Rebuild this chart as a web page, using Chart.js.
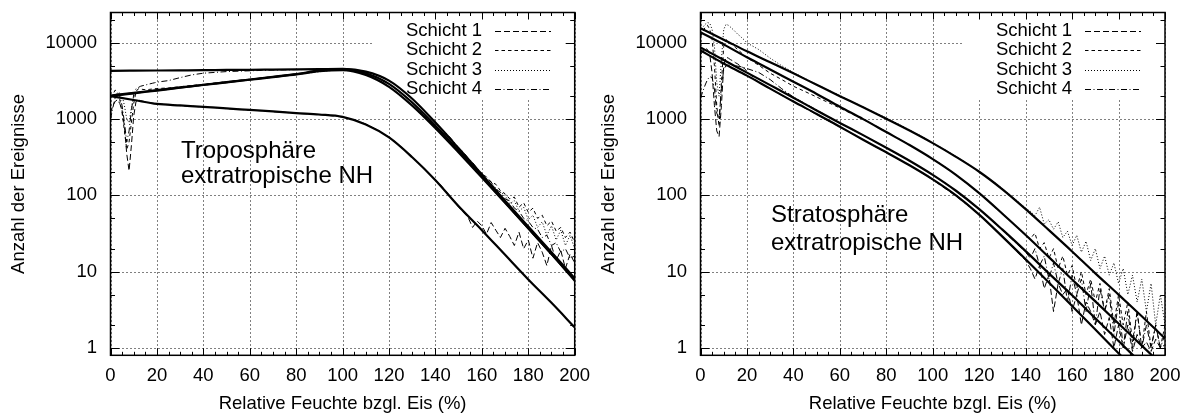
<!DOCTYPE html>
<html lang="de">
<head>
  <meta charset="UTF-8" />
  <title>Relative Feuchte bzgl. Eis - Anzahl der Ereignisse</title>
  <script src="https://cdn.jsdelivr.net/npm/chart.js"></script>
  <style>
    body {
      margin: 0;
      background: white;
    }
    .panels {
      position: relative;
      width: 1181px;
      height: 414px;
    }
    #tropoChart {
      position: absolute;
      left: 0;
      top: 0;
    }
    #stratoChart {
      position: absolute;
      left: 590px;
      top: 0;
    }
  </style>
</head>
<body>
  <div class="panels">
    <canvas id="tropoChart" width="590" height="414"></canvas>
    <canvas id="stratoChart" width="591" height="414"></canvas>
  </div>

  <script>
    // relative humidity over ice (%) for the measured curves
    const rhData = [
      0, 1, 2, 3, 4, 5, 6, 7, 8, 9, 10, 11, 12, 13, 14, 15, 16, 17, 18, 19, 20,
      25, 30, 35, 40, 45, 50, 55, 60, 65, 70, 75, 80, 85, 90, 95, 100, 105, 110, 115, 120, 125, 130, 135, 140,
      142, 144, 146, 148, 150, 152, 154, 156, 158, 160, 162, 164, 166, 168, 170, 172, 174, 176, 178, 180, 182, 184, 186, 188, 190, 192, 194, 196, 198, 200
    ];
    // relative humidity for the fitted curves
    const rhFit = [0, 10, 20, 30, 40, 50, 60, 70, 80, 90, 100, 110, 120, 130, 140, 150, 160, 170, 180, 190, 200];

    const layerNames = ["Schicht 1", "Schicht 2", "Schicht 3", "Schicht 4"];
    const layerDash = [[6, 3], [3.5, 3], [1, 2], [6, 2.5, 1, 2.5]];

    const xTickValues = [0, 20, 40, 60, 80, 100, 120, 140, 160, 180, 200];
    const yTickValues = [1, 10, 100, 1000, 10000];
    const yMinorValues = [2, 5, 20, 50, 200, 500, 2000, 5000, 20000];

    // --- Troposphaere ---
    const tropoLayer1 = [
      1200, 1500, 1700, 1800, 1600, 1300, 800, 350, 210, 450, 1100, 1700, 1800, 1750, 1720, 1690, 1660, 1640, 1620, 1600, 1590,
      1540, 1500, 1480, 1440, 1420, 1370, 1350, 1310, 1290, 1250, 1230, 1190, 1170, 1140, 1110, 1060, 980, 860, 720, 580, 440, 320, 225, 160,
      140, 118, 100, 84, 70, 60, 52, 38, 46, 40, 31, 44, 35, 28, 37, 29, 22, 33, 20, 26, 15, 24, 18, 12, 22, 14, 19, 11, 17, 13
    ];
    const tropoLayer2 = [
      1900, 2100, 2400, 2300, 1800, 1200, 700, 400, 500, 900, 1600, 2300, 2500, 2480, 2450, 2430, 2440, 2460, 2480, 2500, 2520,
      2560, 2660, 2760, 2860, 2970, 3090, 3210, 3330, 3460, 3600, 3750, 3900, 4100, 4300, 4450, 4500, 4350, 4000, 3550, 2900, 2250, 1650, 1150, 800,
      720, 640, 560, 470, 400, 340, 300, 250, 215, 190, 175, 150, 140, 115, 105, 90, 95, 70, 80, 60, 68, 50, 55, 40, 46, 34, 38, 28, 33, 24
    ];
    const tropoLayer3 = [
      2000, 2050, 2100, 2150, 2200, 2050, 1500, 1000, 900, 1400, 2000, 2200, 2250, 2250, 2280, 2300, 2320, 2330, 2350, 2360, 2380,
      2470, 2570, 2680, 2790, 2900, 3020, 3150, 3270, 3400, 3540, 3690, 3850, 4000, 4180, 4330, 4380, 4200, 3800, 3300, 2650, 2050, 1500, 1060, 760,
      660, 590, 510, 440, 370, 330, 290, 240, 210, 180, 160, 140, 125, 110, 100, 78, 85, 62, 70, 48, 55, 38, 45, 30, 40, 26, 35, 22, 30, 20
    ];
    const tropoLayer4 = [
      1000, 1400, 1900, 2100, 2000, 1500, 900, 500, 700, 1300, 2100, 2500, 2600, 2700, 2750, 2800, 2850, 2900, 2950, 3000, 3050,
      3200, 3500, 3800, 4000, 4100, 4200, 4250, 4300, 4350, 4400, 4420, 4450, 4480, 4500, 4550, 4550, 4450, 4200, 3800, 3200, 2500, 1850, 1300, 900,
      780, 680, 590, 500, 420, 370, 310, 270, 225, 195, 165, 150, 120, 110, 90, 85, 68, 62, 50, 46, 38, 36, 28, 30, 22, 24, 18, 20, 15, 16
    ];
    const tropoFit1 = [2000, 1780, 1580, 1510, 1450, 1380, 1320, 1260, 1200, 1150, 1070, 850, 575, 316, 158, 72, 35, 16.6, 7.9, 3.9, 1.86];
    const tropoFit2 = [2040, 2210, 2400, 2600, 2820, 3050, 3310, 3590, 3890, 4350, 4520, 4000, 2900, 1650, 820, 385, 178, 81, 37, 17, 7.8];
    const tropoFit3 = [2000, 2180, 2370, 2580, 2800, 3030, 3280, 3550, 3850, 4250, 4400, 3800, 2650, 1500, 760, 365, 172, 80, 37, 17, 7.6];
    const tropoFit4 = [4300, 4320, 4340, 4360, 4380, 4410, 4430, 4460, 4490, 4520, 4550, 4200, 3200, 1850, 900, 415, 188, 85, 39, 18, 8.2];
    const tropoNote = ["Troposphäre", "extratropische NH"];

    // --- Stratosphaere ---
    const stratoLayer1 = [
      7000, 7800, 8500, 8200, 7000, 4000, 1500, 700, 590, 1500, 5000, 6500, 6300, 6000, 5800, 5500, 5300, 5000, 4800, 4600, 4200,
      3050, 2500, 2050, 1700, 1400, 1150, 950, 790, 650, 535, 440, 365, 300, 248, 200, 160, 125, 98, 74, 56, 41, 29, 20, 14,
      11, 8, 12, 6, 9, 3, 7, 5, 6, 3, 5, 2, 4, 3, 2, 3, 1.5, 2.5, 1, 2, 1, 2, 0.9, 1.5, 1, 1.2, 0.9, 1.3, 1, 1.1
    ];
    const stratoLayer2 = [
      12000, 14000, 16000, 17000, 15000, 11000, 5000, 1500, 800, 3000, 9000, 11000, 10500, 10000, 9300, 8700, 8200, 7700, 7200, 6800, 6400,
      5100, 4000, 3300, 2700, 2300, 1950, 1650, 1400, 1180, 990, 830, 680, 560, 460, 370, 300, 240, 186, 140, 107, 78, 57, 42, 30,
      27, 32, 20, 24, 15, 20, 11, 16, 9, 12, 6, 10, 5, 8, 4, 7, 3, 6, 2, 5, 2, 4, 1.2, 3, 1, 3, 1, 2, 1, 2
    ];
    const stratoLayer3 = [
      14000, 16000, 17500, 18500, 18000, 15000, 9000, 3000, 2000, 6000, 15000, 17500, 17000, 16000, 15000, 14000, 13000, 12300, 11500, 10800, 10000,
      8200, 6300, 5000, 4100, 3400, 2850, 2400, 2050, 1700, 1450, 1220, 1040, 870, 720, 600, 490, 400, 325, 260, 205, 160, 123, 92, 68,
      62, 54, 70, 42, 48, 36, 45, 28, 34, 22, 30, 18, 25, 14, 20, 11, 16, 9, 13, 7, 11, 5, 9, 4, 8, 3, 7, 2, 5, 2
    ];
    const stratoLayer4 = [
      1900, 2300, 2800, 3300, 3600, 3500, 2500, 1200, 1000, 2500, 4500, 5000, 5100, 5100, 5050, 5000, 4950, 4900, 4800, 4700, 4600,
      4100, 3300, 2500, 1950, 1600, 1320, 1080, 890, 740, 615, 510, 420, 345, 285, 230, 186, 148, 115, 87, 66, 48, 35, 25, 18,
      15, 20, 12, 16, 8, 13, 7, 11, 4, 9, 5, 8, 3, 7, 2, 6, 3, 5, 1.5, 4, 1, 3, 1, 3, 1, 2, 1, 2, 1, 1.5
    ];
    const stratoFit1 = [15500, 11000, 7760, 5560, 3980, 2820, 2000, 1430, 1010, 708, 484, 320, 204, 120, 66, 35, 18.4, 9.5, 5.0, 2.6, 1.33];
    const stratoFit2 = [13800, 9550, 6460, 4470, 3090, 2140, 1450, 1000, 676, 457, 299, 186, 107, 57.5, 30.2, 15.5, 7.9, 4.07, 2.09, 1.07, 0.55];
    const stratoFit3 = [8710, 5960, 4070, 2790, 1910, 1300, 891, 617, 422, 285, 186, 115, 66, 35.5, 18.6, 9.5, 4.9, 2.45, 1.23, 0.62, 0.31];
    const stratoFit4 = [7940, 5370, 3720, 2510, 1700, 1170, 794, 537, 367, 248, 162, 100, 56, 28.8, 14.5, 7.2, 3.55, 1.74, 0.85, 0.42, 0.2];
    const stratoNote = ["Stratosphäre", "extratropische NH"];

    const fontFamily = '"Liberation Sans", Arial, sans-serif';

    function points(xs, ys) {
      return xs.map((x, i) => ({ x: x, y: ys[i] }));
    }

    // gnuplot look: dotted grid, framed box, inward ticks on all sides, key and label
    const gnuFrame = {
      id: "gnuFrame",
      beforeDatasetsDraw(chart, args, o) {
        const { ctx, chartArea: a } = chart;
        const xs = chart.scales.x, ys = chart.scales.y;
        ctx.save();
        ctx.strokeStyle = "#000";
        ctx.lineWidth = 1;
        ctx.setLineDash([1, 3]);
        ctx.beginPath();
        xTickValues.forEach(v => {
          const px = Math.round(xs.getPixelForValue(v)) + 0.5;
          ctx.moveTo(px, a.top);
          ctx.lineTo(px, a.bottom);
        });
        yTickValues.forEach(v => {
          const py = Math.round(ys.getPixelForValue(v)) + 0.5;
          ctx.moveTo(a.left, py);
          ctx.lineTo(a.right, py);
        });
        ctx.stroke();
        ctx.setLineDash([]);
        // key area hides the grid
        ctx.fillStyle = "#fff";
        ctx.fillRect(o.keyBox[0], o.keyBox[1], o.keyBox[2], o.keyBox[3]);
        ctx.restore();
      },
      afterDatasetsDraw(chart, args, o) {
        const { ctx, chartArea: a } = chart;
        const xs = chart.scales.x, ys = chart.scales.y;
        ctx.save();
        ctx.strokeStyle = "#000";
        ctx.setLineDash([]);
        ctx.lineWidth = 1;
        ctx.beginPath();
        for (let v = 0; v <= 200; v += 5) {
          const px = Math.round(xs.getPixelForValue(v)) + 0.5;
          const len = v % 20 === 0 ? 7 : 3.5;
          ctx.moveTo(px, a.bottom); ctx.lineTo(px, a.bottom - len);
          ctx.moveTo(px, a.top); ctx.lineTo(px, a.top + len);
        }
        yTickValues.concat(yMinorValues).forEach(v => {
          const py = Math.round(ys.getPixelForValue(v)) + 0.5;
          const len = yTickValues.includes(v) ? 9 : 4.5;
          ctx.moveTo(a.left, py); ctx.lineTo(a.left + len, py);
          ctx.moveTo(a.right, py); ctx.lineTo(a.right - len, py);
        });
        ctx.stroke();
        ctx.lineWidth = 1.5;
        ctx.strokeRect(a.left, a.top, a.right - a.left, a.bottom - a.top);

        // key
        ctx.fillStyle = "#000";
        ctx.font = "18.5px " + fontFamily;
        ctx.textAlign = "right";
        ctx.textBaseline = "middle";
        ctx.lineWidth = 1;
        layerNames.forEach((name, i) => {
          const ty = o.keyTop + i * o.keyStep;
          ctx.fillText(name, o.keyTextRight, ty);
          ctx.setLineDash(layerDash[i]);
          ctx.beginPath();
          ctx.moveTo(o.keyLine[0], Math.round(ty) + 0.5);
          ctx.lineTo(o.keyLine[1], Math.round(ty) + 0.5);
          ctx.stroke();
        });
        ctx.setLineDash([]);

        // region label
        ctx.font = "24px " + fontFamily;
        ctx.textAlign = "left";
        ctx.textBaseline = "alphabetic";
        o.note.forEach((t, i) => ctx.fillText(t, o.noteX, o.noteY[i]));
        ctx.restore();
      }
    };

    function makeChart(id, layers, fits, note, noteY, rightPad) {
      const datasets = layers.map((ys, i) => ({
        label: layerNames[i],
        data: points(rhData, ys),
        borderColor: "#000",
        borderWidth: 1,
        borderDash: layerDash[i],
        pointRadius: 0,
        tension: 0
      })).concat(fits.map(ys => ({
        label: "Fit",
        data: points(rhFit, ys),
        borderColor: "#000",
        borderWidth: 2.2,
        pointRadius: 0,
        cubicInterpolationMode: "monotone"
      })));

      return new Chart(document.getElementById(id), {
        type: "line",
        data: { datasets: datasets },
        options: {
          responsive: false,
          animation: false,
          events: [],
          layout: { padding: { left: 0, top: 12.5, right: rightPad, bottom: 0 } },
          plugins: {
            legend: { display: false },
            tooltip: { enabled: false },
            gnuFrame: {
              keyBox: [373, 14, 191, 85],
              keyTop: 30.5,
              keyStep: 19.6,
              keyTextRight: 482,
              keyLine: [495, 551],
              note: note,
              noteX: 181,
              noteY: noteY
            }
          },
          scales: {
            x: {
              type: "linear",
              min: 0,
              max: 200,
              afterBuildTicks: s => { s.ticks = xTickValues.map(v => ({ value: v })); },
              afterFit: s => {
                s.height = 58.7;
                s.paddingLeft = 0;
                s.paddingRight = 0;
              },
              grid: { display: false, drawTicks: false },
              border: { display: false },
              ticks: {
                color: "#000",
                padding: 10,
                maxRotation: 0,
                autoSkip: false,
                font: { family: fontFamily, size: 18.5 }
              },
              title: {
                display: true,
                text: "Relative Feuchte bzgl. Eis (%)",
                color: "#000",
                padding: { top: 0, bottom: 1 },
                font: { family: fontFamily, size: 18.5, lineHeight: 1 }
              }
            },
            y: {
              type: "logarithmic",
              min: 0.8,
              max: 25000,
              afterBuildTicks: s => { s.ticks = yTickValues.map(v => ({ value: v })); },
              afterFit: s => {
                s.width = 110.5;
                s.paddingTop = 0;
                s.paddingBottom = 0;
              },
              grid: { display: false, drawTicks: false },
              border: { display: false },
              ticks: {
                color: "#000",
                padding: 13.5,
                autoSkip: false,
                callback: v => String(v),
                font: { family: fontFamily, size: 18.5 }
              },
              title: {
                display: true,
                text: "Anzahl der Ereignisse",
                color: "#000",
                padding: { top: 9.25, bottom: 0 },
                font: { family: fontFamily, size: 18.5, lineHeight: 1 }
              }
            }
          }
        },
        plugins: [gnuFrame]
      });
    }

    const tropoChart = makeChart("tropoChart",
      [tropoLayer1, tropoLayer2, tropoLayer3, tropoLayer4],
      [tropoFit1, tropoFit2, tropoFit3, tropoFit4],
      tropoNote, [157.5, 183], 15.3);

    const stratoChart = makeChart("stratoChart",
      [stratoLayer1, stratoLayer2, stratoLayer3, stratoLayer4],
      [stratoFit1, stratoFit2, stratoFit3, stratoFit4],
      stratoNote, [222, 250], 16);
  </script>
</body>
</html>
